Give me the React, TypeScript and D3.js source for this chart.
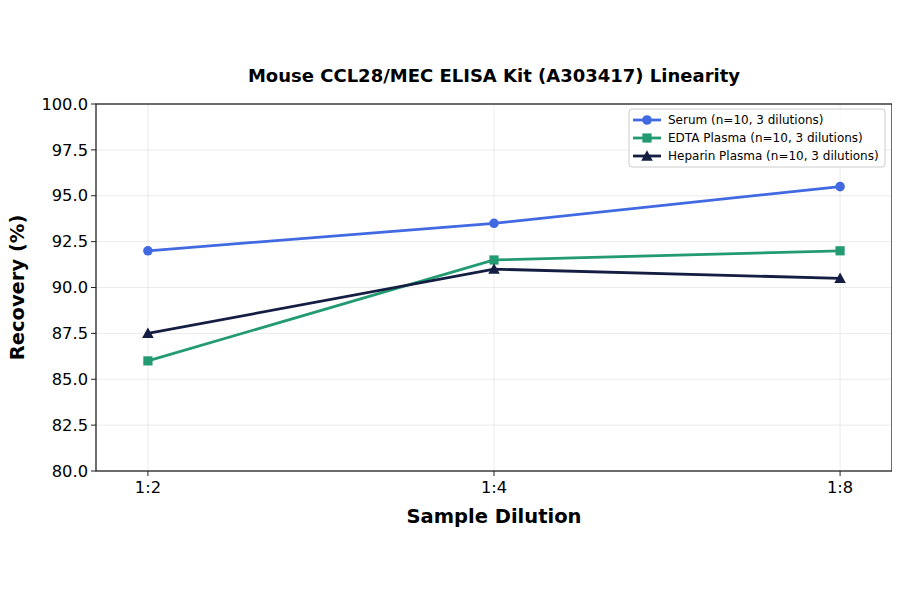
import React from "react";
import * as d3 from "d3";

const categories = ["1:2", "1:4", "1:8"];
const serum = [92.0, 93.5, 95.5];
const edta = [86.0, 91.5, 92.0];
const heparin = [87.5, 91.0, 90.5];
const seriesNames = [
  "Serum (n=10, 3 dilutions)",
  "EDTA Plasma (n=10, 3 dilutions)",
  "Heparin Plasma (n=10, 3 dilutions)",
];
const yTicks = [80, 82.5, 85, 87.5, 90, 92.5, 95, 97.5, 100];

const W = 900, H = 594;
const L = 96, R = 892, T = 104, B = 471;
const font = "DejaVu Sans, sans-serif";

const series = [
  { name: seriesNames[0], values: serum, color: "#4169E1", marker: "circle" },
  { name: seriesNames[1], values: edta, color: "#239B72", marker: "square" },
  { name: seriesNames[2], values: heparin, color: "#141E42", marker: "triangle" },
];

function Marker({ type, x, y, color }: { type: string; x: number; y: number; color: string }) {
  if (type === "circle") return <circle cx={x} cy={y} r={4.8} fill={color} />;
  if (type === "square") return <rect x={x - 4.6} y={y - 4.6} width={9.2} height={9.2} fill={color} />;
  const s = 5.8;
  return <path d={`M${x},${y - s}L${x + s},${y + s * 0.8}L${x - s},${y + s * 0.8}Z`} fill={color} />;
}

export default function App() {
  const x = d3.scaleLinear().domain([-0.15, 2.15]).range([L, R]);
  const y = d3.scaleLinear().domain([80, 100]).range([B, T]);
  const line = d3.line<number>().x((_, i) => x(i)).y((d) => y(d));
  return (
    <svg width={W} height={H} style={{ display: "block", margin: "-8px" }} fontFamily={font}>
      <rect width={W} height={H} fill="#fff" />
      <text x={(L + R) / 2} y={82} textAnchor="middle" fontSize={18} fontWeight="bold">
        Mouse CCL28/MEC ELISA Kit (A303417) Linearity
      </text>
      {/* grid */}
      {yTicks.map((t) => (
        <line key={"gy" + t} x1={L} x2={R} y1={y(t)} y2={y(t)} stroke="#b0b0b0" strokeOpacity={0.3} strokeWidth={0.8} />
      ))}
      {categories.map((c, i) => (
        <line key={"gx" + c} x1={x(i)} x2={x(i)} y1={T} y2={B} stroke="#b0b0b0" strokeOpacity={0.3} strokeWidth={0.8} />
      ))}
      {/* series */}
      {series.map((s) => (
        <g key={s.name}>
          <path d={line(s.values) || ""} fill="none" stroke={s.color} strokeWidth={2.8} />
          {s.values.map((v, i) => (
            <Marker key={i} type={s.marker} x={x(i)} y={y(v)} color={s.color} />
          ))}
        </g>
      ))}
      {/* frame */}
      <rect x={L} y={T} width={R - L} height={B - T} fill="none" stroke="#222" strokeWidth={1.3} />
      {/* y ticks */}
      {yTicks.map((t) => (
        <g key={"yt" + t}>
          <line x1={L - 5} x2={L} y1={y(t)} y2={y(t)} stroke="#222" strokeWidth={1} />
          <text x={L - 8} y={y(t)} dy="0.35em" textAnchor="end" fontSize={16.3}>
            {t.toFixed(1)}
          </text>
        </g>
      ))}
      {categories.map((c, i) => (
        <g key={"xt" + c}>
          <line x1={x(i)} x2={x(i)} y1={B} y2={B + 5} stroke="#222" strokeWidth={1} />
          <text x={x(i)} y={B + 22} textAnchor="middle" fontSize={16.3}>
            {c}
          </text>
        </g>
      ))}
      <text x={(L + R) / 2} y={523} textAnchor="middle" fontSize={19.5} fontWeight="bold">
        Sample Dilution
      </text>
      <text transform={`translate(24,${(T + B) / 2}) rotate(-90)`} textAnchor="middle" fontSize={19.5} fontWeight="bold">
        Recovery (%)
      </text>
      {/* legend */}
      <g>
        <rect x={629} y={109} width={256} height={58} rx={3} fill="#fff" fillOpacity={0.8} stroke="#ccc" strokeWidth={1} />
        {series.map((s, i) => {
          const ly = 120 + i * 18;
          return (
            <g key={"lg" + i}>
              <line x1={633} x2={661} y1={ly} y2={ly} stroke={s.color} strokeWidth={2.8} />
              <Marker type={s.marker} x={647} y={ly} color={s.color} />
              <text x={668} y={ly} dy="0.35em" fontSize={12}>
                {s.name}
              </text>
            </g>
          );
        })}
      </g>
    </svg>
  );
}
